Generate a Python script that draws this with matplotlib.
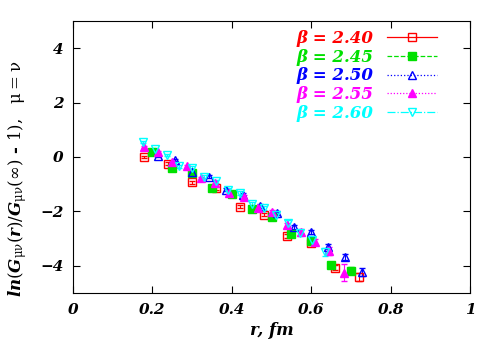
import matplotlib.pyplot as plt
from matplotlib.lines import Line2D

plt.rcParams['mathtext.fontset'] = 'custom'
plt.rcParams['mathtext.it'] = 'DejaVu Serif:bold:italic'
plt.rcParams['mathtext.rm'] = 'DejaVu Serif'
plt.rcParams['mathtext.bf'] = 'DejaVu Serif:bold'

# data
r240 = [0.18, 0.24, 0.30, 0.36, 0.42, 0.48, 0.54, 0.60, 0.66, 0.72]
v240 = [0.0, -0.25, -0.93, -1.15, -1.83, -2.12, -2.9, -3.15, -4.07, -4.4]
e240 = [0.05, 0.05, 0.05, 0.05, 0.06, 0.06, 0.08, 0.08, 0.1, 0.15]

r245 = [0.20, 0.25, 0.30, 0.35, 0.40, 0.45, 0.50, 0.55, 0.60, 0.65, 0.70]
v245 = [0.18, -0.42, -0.6, -1.13, -1.35, -1.93, -2.22, -2.83, -3.08, -3.98, -4.18]
e245 = [0.04, 0.04, 0.05, 0.05, 0.05, 0.06, 0.06, 0.08, 0.08, 0.1, 0.12]

r250 = [0.213, 0.256, 0.299, 0.342, 0.385, 0.428, 0.471, 0.514, 0.557, 0.600, 0.643, 0.686, 0.729]
v250 = [0.05, -0.1, -0.55, -0.72, -1.2, -1.38, -1.8, -2.05, -2.57, -2.75, -3.3, -3.68, -4.22]
e250 = [0.04, 0.04, 0.05, 0.05, 0.05, 0.06, 0.06, 0.07, 0.08, 0.08, 0.1, 0.12, 0.15]

r255 = [0.178, 0.214, 0.25, 0.286, 0.322, 0.358, 0.394, 0.43, 0.466, 0.502, 0.538, 0.574, 0.61, 0.646, 0.682]
v255 = [0.37, 0.18, -0.18, -0.35, -0.77, -0.95, -1.32, -1.47, -1.87, -2.02, -2.5, -2.75, -3.12, -3.45, -4.25]
e255 = [0.04, 0.04, 0.04, 0.05, 0.05, 0.05, 0.06, 0.06, 0.07, 0.07, 0.08, 0.1, 0.12, 0.15, 0.32]

r260 = [0.177, 0.207, 0.238, 0.268, 0.299, 0.329, 0.36, 0.39, 0.42, 0.451, 0.481, 0.512, 0.542, 0.573, 0.603, 0.634]
v260 = [0.55, 0.3, 0.07, -0.35, -0.4, -0.73, -0.9, -1.2, -1.33, -1.73, -1.88, -2.13, -2.43, -2.8, -3.05, -3.5]
e260 = [0.04, 0.04, 0.04, 0.05, 0.05, 0.05, 0.06, 0.06, 0.07, 0.07, 0.08, 0.08, 0.1, 0.12, 0.12, 0.15]

labels = ['β = 2.40', 'β = 2.45', 'β = 2.50', 'β = 2.55', 'β = 2.60']
colors = ['#ff0000', '#00e000', '#0000ff', '#ff00ff', '#00ffff']
markers = ['s', 's', '^', '^', 'v']
filled = [False, True, False, True, False]
styles = ['-', '--', ':', (0, (1, 1.5)), '-.']

series = [(r240, v240, e240), (r245, v245, e245), (r250, v250, e250),
          (r255, v255, e255), (r260, v260, e260)]

fig = plt.figure(figsize=(5, 3.5), dpi=100)
ax = fig.add_axes([0.146, 0.163, 0.794, 0.777])

handles = []
for (r, v, e), c, m, f, ls, lab in zip(series, colors, markers, filled, styles, labels):
    fc = c if f else 'none'
    ax.errorbar(r, v, yerr=e, fmt=m, color=c, mfc=fc, mec=c, ms=5.5,
                elinewidth=0.8, capsize=2, linestyle='none', mew=1)
    handles.append(Line2D([0], [0], color=c, linestyle=ls, lw=0.9, marker=m,
                          mfc=fc, mec=c, ms=5.5, mew=1))

leg = ax.legend(handles, labels, loc='upper right', bbox_to_anchor=(0.94, 1.0),
                markerfirst=False, frameon=False, handlelength=3.0,
                handletextpad=0.8, labelspacing=0.1, borderaxespad=0.15,
                prop={'family': 'DejaVu Serif', 'weight': 'bold',
                      'style': 'italic', 'size': 12})
for t, c in zip(leg.get_texts(), colors):
    t.set_color(c)

ax.set_xlim(0, 1)
ax.set_ylim(-5, 5)
ax.set_xticks([0, 0.2, 0.4, 0.6, 0.8, 1])
ax.set_xticklabels(['0', '0.2', '0.4', '0.6', '0.8', '1'])
ax.set_yticks([-4, -2, 0, 2, 4])
ax.tick_params(direction='in', top=True, right=True, length=5, pad=7)
for lbl in ax.get_xticklabels() + ax.get_yticklabels():
    lbl.set_family('DejaVu Serif')
    lbl.set_weight('bold')
    lbl.set_style('italic')
    lbl.set_size(11)

ax.set_xlabel('r, fm', family='DejaVu Serif', weight='bold', style='italic', size=12)
ax.set_ylabel(r'$ln(G_{\mathrm{\mu\nu}}(r)/G_{\mathrm{\mu\nu}}(\infty)$ - $1),$  $\mathrm{\mu = \nu}$',
              family='DejaVu Serif', weight='bold', size=12)
ax.yaxis.set_label_coords(-0.11, 0.42)

fig.savefig('out.png', dpi=100)
